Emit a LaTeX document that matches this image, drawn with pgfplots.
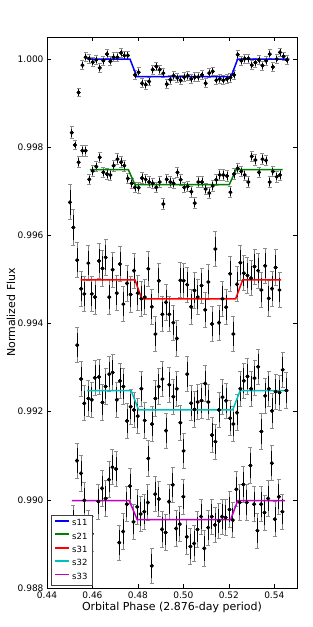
\documentclass[border=0pt]{standalone}
\usepackage{fontspec}
\setmainfont{DejaVu Sans}
\usepackage{pgfplots}
\usepackage{pgfplotstable}
\pgfplotsset{compat=1.18}

\pgfplotstableread{
x y e
0.4509 0.99833 0.00013
0.4523 0.99805 0.00011
0.4539 0.99924 0.00010
0.4556 0.99986 0.00010
0.4570 1.00004 0.00010
0.4586 1.00001 0.00010
0.4601 0.99993 0.00010
0.4617 0.99998 0.00010
0.4632 0.99980 0.00010
0.4648 0.99996 0.00010
0.4664 1.00011 0.00010
0.4679 0.99995 0.00010
0.4693 1.00004 0.00010
0.4710 1.00004 0.00010
0.4726 1.00014 0.00010
0.4740 1.00008 0.00010
0.4756 1.00008 0.00010
0.4787 0.99964 0.00010
0.4803 0.99970 0.00010
0.4818 0.99945 0.00010
0.4834 0.99942 0.00010
0.4849 0.99949 0.00010
0.4865 0.99976 0.00010
0.4881 0.99983 0.00010
0.4896 0.99976 0.00010
0.4912 0.99968 0.00010
0.4927 0.99943 0.00010
0.4943 0.99953 0.00010
0.4957 0.99962 0.00010
0.4974 0.99957 0.00010
0.4988 0.99952 0.00010
0.5004 0.99959 0.00010
0.5019 0.99962 0.00010
0.5035 0.99955 0.00010
0.5050 0.99959 0.00010
0.5066 0.99959 0.00010
0.5082 0.99964 0.00010
0.5098 0.99945 0.00010
0.5114 0.99968 0.00010
0.5129 0.99972 0.00010
0.5145 0.99952 0.00010
0.5160 0.99955 0.00010
0.5176 0.99952 0.00010
0.5192 0.99955 0.00010
0.5207 0.99958 0.00010
0.5223 0.99964 0.00010
0.5239 1.00010 0.00010
0.5255 0.99996 0.00010
0.5270 1.00001 0.00010
0.5286 1.00001 0.00010
0.5301 0.99986 0.00010
0.5317 0.99992 0.00010
0.5333 0.99998 0.00010
0.5348 0.99985 0.00010
0.5364 0.99996 0.00010
0.5380 1.00011 0.00010
0.5394 0.99982 0.00010
0.5411 1.00000 0.00010
0.5425 1.00015 0.00010
0.5441 1.00006 0.00010
0.5456 0.99998 0.00010
}\sA

\pgfplotstableread{
x y e
0.4539 0.99766 0.00012
0.4556 0.99792 0.00012
0.4570 0.99792 0.00012
0.4586 0.99727 0.00012
0.4601 0.99746 0.00012
0.4617 0.99756 0.00012
0.4632 0.99777 0.00012
0.4648 0.99743 0.00012
0.4664 0.99739 0.00012
0.4679 0.99737 0.00012
0.4693 0.99758 0.00012
0.4710 0.99773 0.00012
0.4726 0.99766 0.00012
0.4740 0.99758 0.00012
0.4756 0.99729 0.00012
0.4773 0.99718 0.00012
0.4787 0.99709 0.00012
0.4803 0.99708 0.00012
0.4818 0.99730 0.00012
0.4834 0.99727 0.00012
0.4849 0.99721 0.00012
0.4865 0.99718 0.00012
0.4881 0.99709 0.00012
0.4896 0.99721 0.00012
0.4912 0.99671 0.00012
0.4927 0.99727 0.00012
0.4943 0.99721 0.00012
0.4957 0.99718 0.00012
0.4974 0.99743 0.00012
0.4988 0.99726 0.00012
0.5004 0.99709 0.00012
0.5019 0.99711 0.00012
0.5035 0.99699 0.00012
0.5050 0.99673 0.00012
0.5066 0.99721 0.00012
0.5082 0.99721 0.00012
0.5098 0.99705 0.00012
0.5114 0.99696 0.00012
0.5129 0.99712 0.00012
0.5145 0.99726 0.00012
0.5160 0.99737 0.00012
0.5176 0.99737 0.00012
0.5192 0.99735 0.00012
0.5207 0.99698 0.00012
0.5223 0.99739 0.00012
0.5239 0.99752 0.00012
0.5255 0.99745 0.00012
0.5270 0.99737 0.00012
0.5286 0.99721 0.00012
0.5301 0.99779 0.00012
0.5317 0.99771 0.00012
0.5333 0.99743 0.00012
0.5348 0.99773 0.00012
0.5364 0.99770 0.00012
0.5380 0.99721 0.00012
0.5394 0.99745 0.00012
0.5411 0.99733 0.00012
0.5425 0.99737 0.00012
}\sB

\pgfplotstableread{
x y e
0.4501 0.99675 0.0004
0.4516 0.99618 0.0004
0.4533 0.99544 0.0004
0.4550 0.99479 0.0004
0.4564 0.99467 0.0004
0.4582 0.99537 0.0004
0.4597 0.99467 0.0004
0.4611 0.99460 0.0004
0.4629 0.99542 0.0004
0.4644 0.99525 0.0004
0.4658 0.99550 0.0004
0.4674 0.99460 0.0004
0.4689 0.99522 0.0004
0.4707 0.99469 0.0004
0.4721 0.99535 0.0004
0.4736 0.99444 0.0004
0.4752 0.99491 0.0004
0.4768 0.99466 0.0004
0.4783 0.99520 0.0004
0.4799 0.99469 0.0004
0.4815 0.99456 0.0004
0.4830 0.99460 0.0004
0.4846 0.99524 0.0004
0.4861 0.99438 0.0004
0.4877 0.99376 0.0004
0.4892 0.99497 0.0004
0.4908 0.99421 0.0004
0.4924 0.99448 0.0004
0.4938 0.99421 0.0004
0.4956 0.99402 0.0004
0.4971 0.99366 0.0004
0.4987 0.99498 0.0004
0.5001 0.99497 0.0004
0.5017 0.99488 0.0004
0.5034 0.99438 0.0004
0.5049 0.99475 0.0004
0.5063 0.99460 0.0004
0.5080 0.99486 0.0004
0.5096 0.99431 0.0004
0.5110 0.99494 0.0004
0.5126 0.99399 0.0004
0.5141 0.99569 0.0004
0.5157 0.99402 0.0004
0.5172 0.99456 0.0004
0.5188 0.99437 0.0004
0.5206 0.99513 0.0004
0.5220 0.99376 0.0004
0.5236 0.99489 0.0004
0.5251 0.99538 0.0004
0.5266 0.99514 0.0004
0.5282 0.99509 0.0004
0.5298 0.99503 0.0004
0.5313 0.99529 0.0004
0.5329 0.99520 0.0004
0.5343 0.99476 0.0004
0.5360 0.99531 0.0004
0.5376 0.99457 0.0004
0.5390 0.99479 0.0004
0.5406 0.99527 0.0004
0.5423 0.99476 0.0004
}\sC

\pgfplotstableread{
x y e
0.4533 0.99351 0.0004
0.4550 0.99274 0.0004
0.4564 0.99219 0.0004
0.4582 0.99230 0.0004
0.4597 0.99227 0.0004
0.4611 0.99277 0.0004
0.4629 0.99279 0.0004
0.4644 0.99221 0.0004
0.4658 0.99257 0.0004
0.4674 0.99285 0.0004
0.4689 0.99289 0.0004
0.4707 0.99227 0.0004
0.4721 0.99270 0.0004
0.4736 0.99257 0.0004
0.4752 0.99179 0.0004
0.4768 0.99211 0.0004
0.4783 0.99204 0.0004
0.4799 0.99190 0.0004
0.4815 0.99252 0.0004
0.4830 0.99180 0.0004
0.4846 0.99094 0.0004
0.4862 0.99172 0.0004
0.4877 0.99230 0.0004
0.4892 0.99257 0.0004
0.4908 0.99274 0.0004
0.4924 0.99157 0.0004
0.4938 0.99261 0.0004
0.4956 0.99234 0.0004
0.4971 0.99252 0.0004
0.4987 0.99175 0.0004
0.5001 0.99111 0.0004
0.5017 0.99285 0.0004
0.5034 0.99219 0.0004
0.5049 0.99205 0.0004
0.5063 0.99222 0.0004
0.5080 0.99225 0.0004
0.5096 0.99264 0.0004
0.5110 0.99222 0.0004
0.5126 0.99147 0.0004
0.5141 0.99132 0.0004
0.5157 0.99204 0.0004
0.5172 0.99233 0.0004
0.5188 0.99225 0.0004
0.5206 0.99185 0.0004
0.5220 0.99172 0.0004
0.5236 0.99198 0.0004
0.5251 0.99252 0.0004
0.5266 0.99270 0.0004
0.5282 0.99280 0.0004
0.5298 0.99252 0.0004
0.5313 0.99276 0.0004
0.5329 0.99302 0.0004
0.5343 0.99155 0.0004
0.5360 0.99236 0.0004
0.5376 0.99252 0.0004
0.5390 0.99202 0.0004
0.5406 0.99245 0.0004
0.5423 0.99243 0.0004
0.5437 0.99295 0.0004
0.5453 0.99248 0.0004
}\sD

\pgfplotstableread{
x y e
0.4516 0.98948 0.0004
0.4532 0.99089 0.0004
0.4550 0.99060 0.0004
0.4564 0.98999 0.0004
0.4582 0.98935 0.0004
0.4597 0.98923 0.0004
0.4626 0.98996 0.0004
0.4642 0.99026 0.0004
0.4658 0.99003 0.0004
0.4673 0.99046 0.0004
0.4688 0.99074 0.0004
0.4704 0.99070 0.0004
0.4718 0.98903 0.0004
0.4735 0.98928 0.0004
0.4751 0.98990 0.0004
0.4765 0.99031 0.0004
0.4781 0.98950 0.0004
0.4797 0.98984 0.0004
0.4812 0.98968 0.0004
0.4828 0.98973 0.0004
0.4844 0.98994 0.0004
0.4861 0.98850 0.0004
0.4876 0.99013 0.0004
0.4892 0.99002 0.0004
0.4906 0.98933 0.0004
0.4922 0.98926 0.0004
0.4937 0.98996 0.0004
0.4953 0.99034 0.0004
0.4968 0.98935 0.0004
0.4984 0.98945 0.0004
0.5000 0.99007 0.0004
0.5015 0.98916 0.0004
0.5031 0.98894 0.0004
0.5047 0.98901 0.0004
0.5062 0.98933 0.0004
0.5078 0.98962 0.0004
0.5092 0.98890 0.0004
0.5109 0.98937 0.0004
0.5125 0.98962 0.0004
0.5139 0.98943 0.0004
0.5156 0.98952 0.0004
0.5170 0.98962 0.0004
0.5186 0.98960 0.0004
0.5203 0.98978 0.0004
0.5217 0.98954 0.0004
0.5233 0.99024 0.0004
0.5248 0.98994 0.0004
0.5264 0.99035 0.0004
0.5279 0.98994 0.0004
0.5295 0.99078 0.0004
0.5311 0.98990 0.0004
0.5326 0.98930 0.0004
0.5342 0.98990 0.0004
0.5357 0.98971 0.0004
0.5373 0.99003 0.0004
0.5389 0.99083 0.0004
0.5403 0.98956 0.0004
0.5420 0.99007 0.0004
0.5436 0.98973 0.0004
}\sE

\definecolor{mplgreen}{rgb}{0,0.5,0}
\definecolor{mplcyan}{rgb}{0,0.75,0.75}
\definecolor{mplmag}{rgb}{0.75,0,0.75}

\pgfplotsset{
  ptsg/.style={only marks, mark=*, mark size=1.7pt, black,
    error bars/.cd, y dir=both, y explicit,
    error bar style={black!50, line width=0.9pt},
    error mark options={black!45, rotate=90, mark size=2pt, line width=0.9pt}},
  ptsb/.style={only marks, mark=*, mark size=1.7pt, black,
    error bars/.cd, y dir=both, y explicit,
    error bar style={black, line width=0.9pt},
    error mark=none},
}

\begin{document}
\begin{tikzpicture}
\useasboundingbox (-47pt,-39pt) rectangle (266pt,588pt);
\begin{axis}[
  at={(0,0)}, anchor=south west,
  scale only axis, width=250pt, height=551pt,
  xmin=0.44, xmax=0.55, ymin=0.988, ymax=1.0005,
  xtick={0.44,0.46,...,0.545},
  ytick={0.988,0.990,0.992,0.994,0.996,0.998,1.000},
  tick align=inside, tick pos=both,
  major tick length=4pt,
  tick style={black, line width=0.6pt},
  axis line style={black, line width=0.9pt},
  xticklabel style={/pgf/number format/.cd, fixed, fixed zerofill, precision=2, assume math mode=true},
  yticklabel style={/pgf/number format/.cd, fixed, fixed zerofill, precision=3, assume math mode=true},
  ticklabel style={font=\fontsize{9}{10}\selectfont},
  xlabel={Orbital Phase (2.876-day period)},
  ylabel={Normalized Flux},
  label style={font=\fontsize{11}{12}\selectfont},
  ylabel style={at={(axis description cs:-0.144,0.5)}, anchor=center},
  xlabel style={at={(axis description cs:0.5,0)}, anchor=north, yshift=-11pt},
  legend style={at={(axis description cs:0.016,0.004)}, anchor=south west,
    draw=black!75, line width=0.8pt, fill=white,
    font=\fontsize{8.5}{9}\selectfont, row sep=1.6pt,
    inner xsep=3pt, inner ysep=2.5pt},
  legend cell align=left,
  legend image code/.code={\draw[#1] (0pt,2.5pt) -- (14pt,2.5pt);},
]
\addplot[forget plot, ptsg] table[x=x,y=y,y error=e]{\sA};
\addplot[forget plot, ptsb] table[x=x,y=y,y error expr=0.7*\thisrow{e}]{\sA};
\addplot[forget plot, ptsg] table[x=x,y=y,y error=e]{\sB};
\addplot[forget plot, ptsb] table[x=x,y=y,y error expr=0.7*\thisrow{e}]{\sB};
\addplot[forget plot, ptsg] table[x=x,y=y,y error=e]{\sC};
\addplot[forget plot, ptsb] table[x=x,y=y,y error expr=0.7*\thisrow{e}]{\sC};
\addplot[forget plot, ptsg] table[x=x,y=y,y error=e]{\sD};
\addplot[forget plot, ptsb] table[x=x,y=y,y error expr=0.7*\thisrow{e}]{\sD};
\addplot[forget plot, ptsg] table[x=x,y=y,y error=e]{\sE};
\addplot[forget plot, ptsb] table[x=x,y=y,y error expr=0.7*\thisrow{e}]{\sE};

\addplot[forget plot, draw=blue, line width=1.5pt] coordinates {(0.4578,1.0000) (0.4765,1.0000) (0.4795,0.9996) (0.5210,0.9996) (0.5239,1.0000) (0.5466,1.0000)};
\addplot[forget plot, draw=mplgreen, line width=1.5pt] coordinates {(0.4589,0.99749) (0.4758,0.99749) (0.4787,0.99715) (0.5202,0.99715) (0.5232,0.99749) (0.5437,0.99749)};
\addplot[forget plot, draw=red, line width=1.5pt] coordinates {(0.4548,0.99499) (0.4787,0.99499) (0.4817,0.99456) (0.5230,0.99456) (0.5261,0.99499) (0.5430,0.99499)};
\addplot[forget plot, draw=mplcyan, line width=1.5pt] coordinates {(0.4577,0.99248) (0.4770,0.99248) (0.4803,0.99204) (0.5217,0.99204) (0.5250,0.99248) (0.5463,0.99248)};
\addplot[forget plot, draw=mplmag, line width=1.5pt] coordinates {(0.4509,0.98998) (0.4762,0.98998) (0.4797,0.98955) (0.5208,0.98955) (0.5239,0.98998) (0.5447,0.98998)};

\addlegendimage{draw=blue, line width=1.8pt}
\addlegendentry{s11}
\addlegendimage{draw=mplgreen, line width=1.8pt}
\addlegendentry{s21}
\addlegendimage{draw=red, line width=1.8pt}
\addlegendentry{s31}
\addlegendimage{draw=mplcyan, line width=1.8pt}
\addlegendentry{s32}
\addlegendimage{draw=mplmag, line width=1.8pt}
\addlegendentry{s33}
\end{axis}
\end{tikzpicture}
\end{document}
